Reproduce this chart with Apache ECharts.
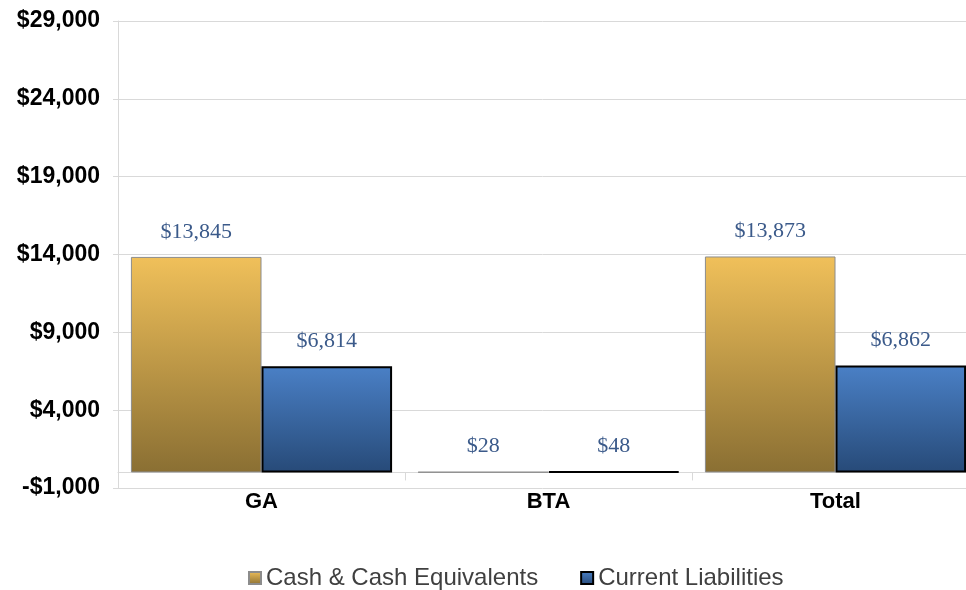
<!DOCTYPE html>
<html>
<head>
<meta charset="utf-8">
<script src="https://cdn.jsdelivr.net/npm/echarts@6/dist/echarts.min.js"></script>
<style>
    html, body { margin: 0; padding: 0; background: #fff; }
    #chart { width: 966px; height: 590px; }
</style>
</head>
<body>
<div id="chart"></div>
<script>
const categories = ['GA', 'BTA', 'Total'];
const cashValues = [13845, 28, 13873];
const liabilityValues = [6814, 48, 6862];
const seriesNames = ['Cash & Cash Equivalents', 'Current Liabilities'];

function money(v) {
    const s = '$' + Math.abs(v).toLocaleString('en-US');
    return v < 0 ? '-' + s : s;
}

const labelStyle = {
    show: true,
    position: 'top',
    distance: 14,
    color: '#3b5a8a',
    fontFamily: 'Liberation Serif',
    fontSize: 22,
    formatter: (p) => money(p.value)
};

let chart = echarts.init(document.getElementById('chart'));
chart.setOption({
    animation: false,
    grid: {
        left: 118,
        top: 21,
        width: 861,
        height: 467,
        outerBoundsMode: 'none'
    },
    legend: {
        top: 561,
        left: 243,
        itemWidth: 12,
        itemHeight: 12,
        itemGap: 42,
        icon: 'rect',
        textStyle: {
            fontFamily: 'Liberation Sans',
            fontSize: 24,
            color: '#404040'
        }
    },
    xAxis: [{
        type: 'category',
        data: categories,
        axisLine: { onZero: true, lineStyle: { color: '#d9d9d9' } },
        axisTick: { show: true, length: 8, lineStyle: { color: '#d9d9d9' } },
        axisLabel: {
            margin: 3,
            fontFamily: 'Liberation Sans',
            fontWeight: 'bold',
            fontSize: 22,
            color: '#000'
        }
    }],
    yAxis: [{
        type: 'value',
        min: -1000,
        max: 29000,
        interval: 5000,
        axisLine: { show: true, lineStyle: { color: '#d9d9d9' } },
        axisTick: { show: true, length: 5, lineStyle: { color: '#d9d9d9' } },
        splitLine: { lineStyle: { color: '#d9d9d9' } },
        axisLabel: {
            margin: 18,
            fontFamily: 'Liberation Sans',
            fontWeight: 'bold',
            fontSize: 23,
            color: '#000',
            formatter: money
        }
    }],
    series: [
        {
            name: seriesNames[0],
            type: 'bar',
            data: cashValues,
            barGap: '0%',
            barCategoryGap: '9%',
            itemStyle: {
                color: new echarts.graphic.LinearGradient(0, 0, 0, 1, [
                    { offset: 0, color: '#f0c05a' },
                    { offset: 1, color: '#8a6f33' }
                ]),
                borderColor: '#8c8c8c',
                borderWidth: 1
            },
            label: labelStyle
        },
        {
            name: seriesNames[1],
            type: 'bar',
            data: liabilityValues,
            itemStyle: {
                color: new echarts.graphic.LinearGradient(0, 0, 0, 1, [
                    { offset: 0, color: '#4a80c6' },
                    { offset: 1, color: '#274a78' }
                ]),
                borderColor: '#000',
                borderWidth: 2
            },
            label: labelStyle
        }
    ]
});
</script>
</body>
</html>
